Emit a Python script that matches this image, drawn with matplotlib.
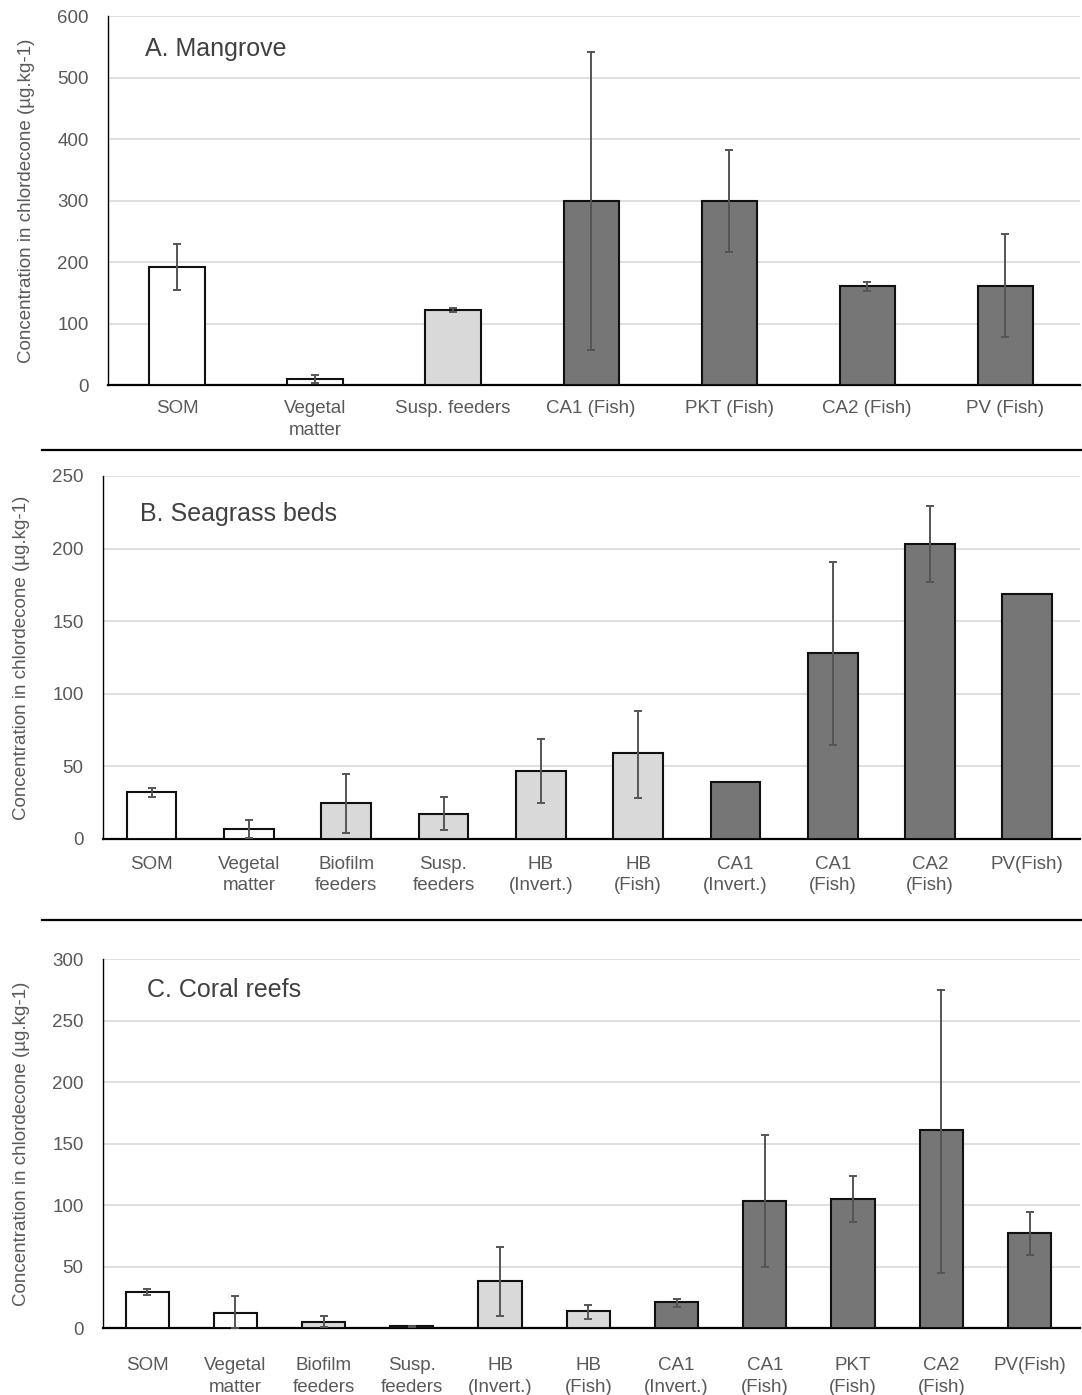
import matplotlib
matplotlib.use("Agg")
import matplotlib.pyplot as plt
from matplotlib.lines import Line2D

plt.rcParams['font.family'] = ['Liberation Sans', 'DejaVu Sans']

# Panel A: Mangrove
a_labels = ["SOM", "Vegetal\nmatter", "Susp. feeders", "CA1 (Fish)", "PKT (Fish)", "CA2 (Fish)", "PV (Fish)"]
a_values = [192, 10, 122, 300, 300, 161, 161]
a_low = [155, 3, 119, 57, 217, 153, 78]
a_high = [230, 17, 125, 542, 382, 168, 245]
a_group = ["src", "src", "inv", "fish", "fish", "fish", "fish"]

# Panel B: Seagrass beds
b_labels = ["SOM", "Vegetal\nmatter", "Biofilm\nfeeders", "Susp.\nfeeders", "HB\n(Invert.)", "HB\n(Fish)",
            "CA1\n(Invert.)", "CA1\n(Fish)", "CA2\n(Fish)", "PV(Fish)"]
b_values = [32, 7, 25, 17, 47, 59, 39, 128, 203, 169]
b_low = [29, 1, 4, 6, 25, 28, None, 65, 177, None]
b_high = [35, 13, 45, 29, 69, 88, None, 191, 229, None]
b_group = ["src", "src", "inv", "inv", "inv", "inv", "fish", "fish", "fish", "fish"]

# Panel C: Coral reefs
c_labels = ["SOM", "Vegetal\nmatter", "Biofilm\nfeeders", "Susp.\nfeeders", "HB\n(Invert.)", "HB\n(Fish)",
            "CA1\n(Invert.)", "CA1\n(Fish)", "PKT\n(Fish)", "CA2\n(Fish)", "PV(Fish)"]
c_values = [29, 12, 5, 1.5, 38, 14, 21, 103, 105, 161, 77]
c_low = [27, 0, 1, 1, 10, 7, 17, 50, 86, 45, 59]
c_high = [32, 26, 10, 2, 66, 19, 24, 157, 124, 275, 94]
c_group = ["src", "src", "inv", "fish", "inv", "inv", "fish", "fish", "fish", "fish", "fish"]

colors = {"src": "#ffffff", "inv": "#d9d9d9", "fish": "#767677"}
txt = "#595959"

fig = plt.figure(figsize=(10.82, 13.95), dpi=100)

panels = [
    ("A. Mangrove", a_labels, a_values, a_low, a_high, a_group, 600, 100, 0.40, 0.04, 11,
     [0.0998, 0.724, 0.8982, 0.2645], (0.038, 0.91)),
    ("B. Seagrass beds", b_labels, b_values, b_low, b_high, b_group, 250, 50, 0.51, 0.04, 12,
     [0.0952, 0.3986, 0.9028, 0.2602], (0.038, 0.895)),
    ("C. Coral reefs", c_labels, c_values, c_low, c_high, c_group, 300, 50, 0.49, 0.07, 21,
     [0.0952, 0.0480, 0.9028, 0.2645], (0.045, 0.915)),
]

for title, labels, values, low, high, group, ymax, step, width, xpad, lpad, rect, tpos in panels:
    ax = fig.add_axes(rect)
    x = list(range(len(labels)))
    ax.bar(x, values, width=width, color=[colors[g] for g in group],
           edgecolor="#111111", linewidth=1.5, zorder=3)
    for xi, v, lo, hi in zip(x, values, low, high):
        if lo is None:
            continue
        ax.errorbar([xi], [v], yerr=[[v - lo], [hi - v]], fmt="none",
                    ecolor="#555555", elinewidth=1.4, capsize=3.2, capthick=1.4, zorder=4)
    ax.set_xlim(-0.5, len(labels) - 0.5 + xpad)
    ax.set_ylim(0, ymax)
    ax.set_yticks(range(0, ymax + 1, step))
    ax.yaxis.grid(True, color="#d9d9d9", linewidth=1.2, zorder=0)
    ax.set_axisbelow(True)
    for s in ["top", "right"]:
        ax.spines[s].set_visible(False)
    ax.spines["left"].set_color("black")
    ax.spines["left"].set_linewidth(1.0)
    ax.spines["bottom"].set_color("black")
    ax.spines["bottom"].set_linewidth(1.6)
    ax.set_xticks(x)
    ax.set_xticklabels(labels, fontsize=13.5, color=txt, linespacing=1.35)
    ax.tick_params(axis="both", length=0, colors=txt, labelsize=13.5)
    ax.tick_params(axis="x", pad=lpad)
    ax.tick_params(axis="y", pad=14)
    ax.set_ylabel("Concentration in chlordecone (µg.kg-1)", fontsize=13.5, color=txt, labelpad=16)
    ax.text(tpos[0], tpos[1], title, transform=ax.transAxes, fontsize=18, color="#404040",
            ha="left", va="center")

# Horizontal separators between panels
for yy in [1 - 450 / 1395, 1 - 920 / 1395]:
    fig.add_artist(Line2D([0.039, 1.0], [yy, yy], transform=fig.transFigure,
                          color="black", linewidth=1.6))

fig.savefig("out.png", dpi=100)
